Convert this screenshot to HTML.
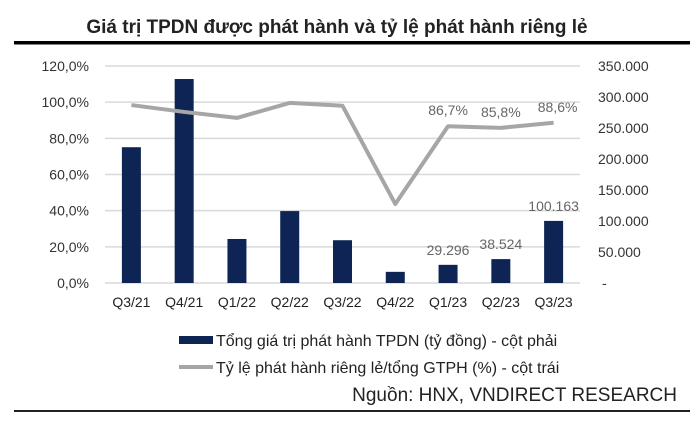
<!DOCTYPE html>
<html><head><meta charset="utf-8"><style>
body{margin:0;background:#fff;}
svg{display:block;font-family:"Liberation Sans",sans-serif;}
</style></head><body>
<svg id="chart" width="700" height="424">
<text x="337" y="33" text-anchor="middle" font-size="19" font-weight="bold" fill="#222">Giá trị TPDN được phát hành và tỷ lệ phát hành riêng lẻ</text>
<rect x="14" y="41" width="676" height="3.5" fill="#000"/>
<g id="grid"></g><g id="bars"></g><g id="line"></g><g id="labels"></g>
<rect x="179" y="336" width="34" height="8" fill="#0d2454"/>
<text x="216" y="346" font-size="16" fill="#222">Tổng giá trị phát hành TPDN (tỷ đồng) - cột phải</text>
<rect x="179" y="365" width="34" height="4" fill="#a6a6a6"/>
<text x="216" y="373" font-size="16" fill="#222">Tỷ lệ phát hành riêng lẻ/tổng GTPH (%) - cột trái</text>
<text x="677" y="401" text-anchor="end" font-size="19" fill="#222">Nguồn: HNX, VNDIRECT RESEARCH</text>
<rect x="14" y="410" width="676" height="2" fill="#222"/>
</svg>
<script>
const categories=["Q3/21","Q4/21","Q1/22","Q2/22","Q3/22","Q4/22","Q1/23","Q2/23","Q3/23"];
const issuance=[219000,329000,71000,116000,69000,18000,29296,38524,100163];
const privateRatio=[98.4,94.6,91.3,99.6,98.0,43.7,86.7,85.8,88.6];
const leftTicks=[0,20,40,60,80,100,120];
const rightTicks=[0,50000,100000,150000,200000,250000,300000,350000];
const barLabels={6:"29.296",7:"38.524",8:"100.163"};
const lineLabels={6:"86,7%",7:"85,8%",8:"88,6%"};
const NS="http://www.w3.org/2000/svg";
const X0=105,X1=580,Y0=283,Y1=66;
const band=(X1-X0)/categories.length;
const xc=i=>X0+band*(i+0.5);
const yL=v=>Y0-(v/120)*(Y0-Y1);
const yR=v=>Y0-(v/350000)*(Y0-Y1);
function mk(tag,attrs,parent,text){const e=document.createElementNS(NS,tag);for(const k in attrs)e.setAttribute(k,attrs[k]);if(text!==undefined)e.textContent=text;parent.appendChild(e);return e;}
const grid=document.getElementById('grid'),bars=document.getElementById('bars'),line=document.getElementById('line'),labels=document.getElementById('labels');
leftTicks.forEach(t=>{
  const g=mk('line',{x1:X0,x2:X1,y1:yL(t),y2:yL(t),stroke:'#d9d9d9','stroke-width':1.5},grid);
  
  
  const l=mk('text',{x:89,y:yL(t)+5,'text-anchor':'end','font-size':14,fill:'#333'},labels,t.toFixed(1).replace('.',',')+'%');
  
  
});
rightTicks.forEach(t=>{
  const s=t===0?'-':t.toLocaleString('de-DE');
  const l=mk('text',{x:t===0?602:598,y:yR(t)+5,'font-size':14,fill:'#333'},labels,s);
  
  
});
categories.forEach((c,i)=>{
  const bw=19;
  const r=mk('rect',{x:xc(i)-bw/2,y:yR(issuance[i]),width:bw,height:Y0-yR(issuance[i]),fill:'#0d2454'},bars);
  
  
  const t=mk('text',{x:xc(i),y:307,'text-anchor':'middle','font-size':14,fill:'#222'},labels,c);
  
  
  if(barLabels[i]){
    const b=mk('text',{x:xc(i),y:yR(issuance[i])-10,'text-anchor':'middle','font-size':14,fill:'#666'},labels,barLabels[i]);
    
    
  }
  if(lineLabels[i]){
    const b=mk('text',{x:xc(i)+(i===8?4:0),y:yL(privateRatio[i])-11,'text-anchor':'middle','font-size':14,fill:'#666'},labels,lineLabels[i]);
    
    
  }
});
const p=mk('polyline',{points:privateRatio.map((v,i)=>xc(i)+','+yL(v)).join(' '),fill:'none',stroke:'#a6a6a6','stroke-width':4,'stroke-linejoin':'round'},line);


</script>
</body></html>
